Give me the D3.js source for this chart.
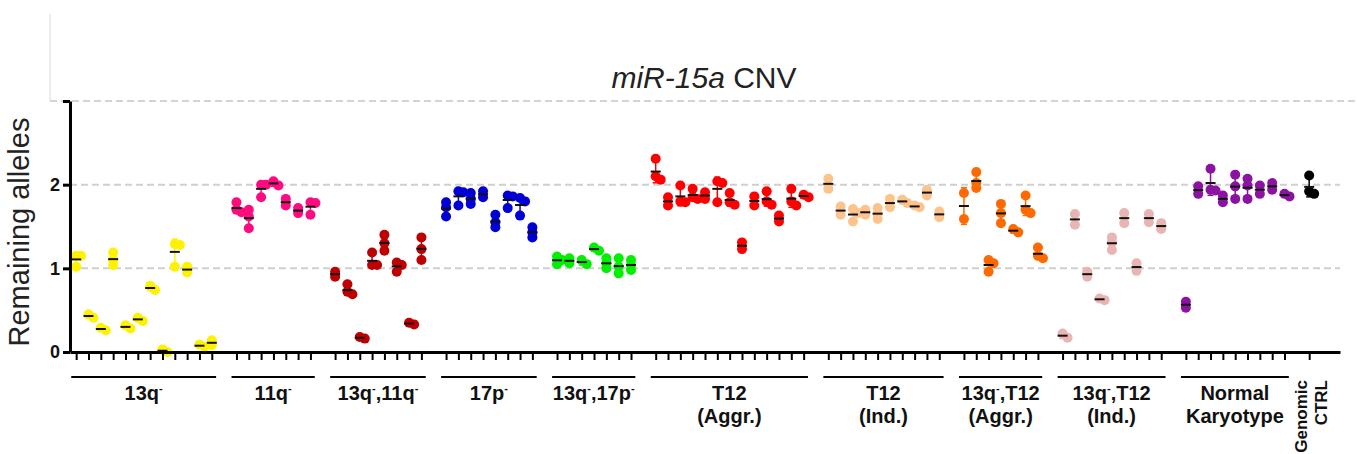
<!DOCTYPE html>
<html><head><meta charset="utf-8">
<script src="https://cdn.jsdelivr.net/npm/d3@7"></script>
<style>body{margin:0;background:#fff}svg{display:block}</style>
</head><body>
<script>
// ---------- data (replicate values per patient sample) ----------
const groupNames = ["13q^","11q^","13q^,11q^","17p^","13q^,17p^","T12|(Aggr.)","T12|(Ind.)","13q^,T12|(Aggr.)","13q^,T12|(Ind.)","Normal|Karyotype","Genomic|CTRL"];
const groupColors = ["#fff200","#ff0a7f","#be0000","#0000d6","#00f000","#ff0000","#fcc48c","#ff6a00","#e9b5b3","#8c12a2","#000000"];
const s13q = [[1.15,1.15,1.02],[0.45,0.41],[0.29,0.26],[1.19,1.04,1.10],[0.32,0.28],[0.41,0.37],[0.79,0.74],[0.03,0.00],[1.29,1.28,1.02],[1.02,0.95],[0.09,0.06],[0.14,0.08]];
const s11q = [[1.79,1.70,1.67],[1.70,1.62,1.48],[2.00,2.00,1.85],[2.04,1.99],[1.83,1.75],[1.72,1.66],[1.79,1.78,1.64]];
const s13q11q = [[0.96,0.90],[0.81,0.72,0.69],[0.18,0.16],[1.19,1.04,1.04],[1.40,1.30,1.21],[1.07,1.04,0.96],[0.35,0.33],[1.37,1.23,1.10]];
const s17p = [[1.79,1.73,1.62],[1.92,1.91,1.75],[1.90,1.83,1.77],[1.92,1.85],[1.64,1.55,1.49],[1.87,1.86,1.72],[1.84,1.80,1.63],[1.49,1.43,1.37]];
const s13q17p = [[1.14,1.05,1.10],[1.12,1.06],[1.10,1.05],[1.25,1.21],[1.12,1.00,1.06],[1.12,0.94,1.02],[1.10,0.98,1.04]];
const sT12A = [[2.31,2.10,2.06],[1.85,1.75],[1.99,1.80,1.79],[1.95,1.85,1.83],[1.91,1.83],[2.04,2.02,1.79],[1.90,1.79,1.76],[1.31,1.23],[1.86,1.75],[1.92,1.80,1.76],[1.63,1.56],[1.95,1.80,1.75],[1.88,1.85]];
const sT12I = [[2.07,1.95],[1.74,1.64],[1.71,1.66,1.56],[1.70,1.64],[1.72,1.65,1.59],[1.83,1.73],[1.82,1.78],[1.75,1.73],[1.94,1.87],[1.68,1.61]];
const s13qT12A = [[1.90,1.59],[2.15,2.02,1.96],[1.10,1.06,0.96],[1.77,1.66,1.54],[1.47,1.43],[1.87,1.70,1.66],[1.25,1.15,1.12]];
const s13qT12I = [[0.22,0.17],[1.65,1.52],[0.96,0.90],[0.64,0.62],[1.37,1.31,1.22],[1.66,1.54],[1.06,0.97],[1.65,1.55],[1.54,1.47]];
const sNormal = [[0.60,0.53],[1.98,1.89],[2.19,1.94,1.93],[1.87,1.79],[2.12,1.98,1.83],[2.07,1.99,1.83],[1.99,1.89],[2.02,1.94],[1.89,1.86]];
const sCtrl = [[2.11,1.92,1.89]];
const groupSamples = [s13q,s11q,s13q11q,s17p,s13q17p,sT12A,sT12I,s13qT12A,s13qT12I,sNormal,sCtrl];
const yTicks = [0,1,2,3];
const yTickLabels = ["0","1","2",""];

// ---------- layout ----------
const W = 1357, H = 454;
const FONT = "'Liberation Sans', Arial, sans-serif";
const NARROW = "'Liberation Sans Narrow', 'Arial Narrow', 'Liberation Sans', Arial, sans-serif";
const svg = d3.select("body").append("svg").attr("width",W).attr("height",H)
  .style("font-family",FONT);

// slot index for each sample, one empty slot between groups
let slot = 0;
const groups = groupSamples.map((samples,gi)=>{
  const slots = samples.map(()=>slot++);
  slot++;
  return {name:groupNames[gi], color:groupColors[gi], samples, slots};
});
const nSlots = slot - 1;

const x = d3.scaleLinear().domain([-0.5, nSlots + 1.5]).range([70, 1340]);
const y = d3.scaleLinear().domain([0,3]).range([352,101]);

// frame / grid
svg.append("line").attr("x1",50).attr("x2",50).attr("y1",14).attr("y2",y(3))
  .attr("stroke","#e6e6e6").attr("stroke-width",1.5);
svg.append("line").attr("x1",50).attr("x2",W).attr("y1",y(3)).attr("y2",y(3))
  .attr("stroke","#d4d4d4").attr("stroke-width",2).attr("stroke-dasharray","7,4");
[1,2].forEach(v=>{
  svg.append("line").attr("x1",x.range()[0]).attr("x2",x.range()[1]).attr("y1",y(v)).attr("y2",y(v))
    .attr("stroke","#cfcfcf").attr("stroke-width",2).attr("stroke-dasharray","7,4");
});

// title
const title = svg.append("text").attr("x",704).attr("y",88).attr("text-anchor","middle")
  .attr("font-size",30).attr("fill","#222");
title.append("tspan").attr("font-style","italic").text("miR-15a");
title.append("tspan").text(" CNV");

// y axis label
svg.append("text").attr("transform","translate(29,232) rotate(-90)").attr("text-anchor","middle")
  .attr("font-size",29).attr("fill","#222").text("Remaining alleles");

// points
const r = 5;
groups.forEach(g=>{
  g.samples.forEach((vals,si)=>{
    const cx = x(g.slots[si]);
    const m = d3.mean(vals), sd = d3.deviation(vals);
    const placed = [];
    const sorted = vals.slice().sort((a,b)=>b-a);
    sorted.forEach(v=>{
      const py = y(v);
      const cands = [0, 5, -5, 10, -10];
      let off = 0;
      for (const c of cands){
        if (placed.every(p=> Math.hypot(p.x-(cx+c), p.y-py) >= 4.2)) { off = c; break; }
      }
      placed.push({x:cx+off, y:py});
    });
    const gg = svg.append("g");
    if (sd) {
      gg.append("line").attr("x1",cx).attr("x2",cx).attr("y1",y(m-sd)).attr("y2",y(m+sd))
        .attr("stroke",g.color).attr("stroke-width",1.5);
      [m-sd,m+sd].forEach(v=> gg.append("line").attr("x1",cx-3).attr("x2",cx+3).attr("y1",y(v)).attr("y2",y(v))
        .attr("stroke",g.color).attr("stroke-width",1.5));
    }
    gg.selectAll("circle").data(placed).join("circle")
      .attr("cx",d=>d.x).attr("cy",d=>d.y).attr("r",r).attr("fill",g.color);
    gg.append("line").attr("x1",cx-5).attr("x2",cx+5).attr("y1",y(m)).attr("y2",y(m))
      .attr("stroke","#111").attr("stroke-width",2);
  });
});

// y axis
const yAxis = svg.append("g").attr("transform",`translate(${x.range()[0]},0)`)
  .call(d3.axisLeft(y).tickValues(yTicks).tickFormat((d,i)=>yTickLabels[i]).tickSize(7).tickSizeOuter(0));
yAxis.select(".domain").attr("stroke","#000").attr("stroke-width",3);
yAxis.selectAll(".tick line").attr("stroke","#000").attr("stroke-width",3);
yAxis.selectAll(".tick text").attr("font-size",18).attr("font-weight","bold").attr("fill","#111")
  .attr("font-family",FONT).attr("x",-10);

// x axis with ticks at sample slots only
const allSlots = groups.flatMap(g=>g.slots);
const xAxis = svg.append("g").attr("transform",`translate(0,${y(0)})`)
  .call(d3.axisBottom(x).tickValues(allSlots).tickFormat("").tickSize(8).tickSizeOuter(0));
xAxis.select(".domain").attr("stroke","#000").attr("stroke-width",3);
xAxis.selectAll(".tick line").attr("stroke","#000").attr("stroke-width",2);

// group brackets and labels
function addLabel(sel, str){
  let pendingDy = 0;
  str.split("^").forEach((part,i,arr)=>{
    if (part) { sel.append("tspan").attr("dy",pendingDy).text(part); pendingDy = 0; }
    if (i < arr.length-1) { sel.append("tspan").attr("font-size",11).attr("dy",-8).text("-"); pendingDy = 8; }
  });
}
groups.forEach(g=>{
  const first = g.slots[0], last = g.slots[g.slots.length-1];
  const lines = g.name.split("|");
  if (g.name.startsWith("Genomic")) {
    lines.forEach((ln,i)=>{
      svg.append("text").attr("transform",`translate(${x(first)-2+i*20},380) rotate(-90)`)
        .attr("text-anchor","end").attr("font-size",17).attr("font-family",NARROW)
        .attr("font-weight","bold").attr("fill","#111").text(ln);
    });
    return;
  }
  svg.append("line").attr("x1",x(first-0.4)).attr("x2",x(last+0.35)).attr("y1",377).attr("y2",377)
    .attr("stroke","#000").attr("stroke-width",2);
  const cx = (x(first-0.4)+x(last+0.35))/2;
  lines.forEach((ln,i)=>{
    const t = svg.append("text").attr("x",cx).attr("y",400+i*23).attr("text-anchor","middle")
      .attr("font-size",20).attr("font-family",NARROW).attr("font-weight","bold").attr("fill","#111");
    addLabel(t, ln);
  });
});
</script>
</body></html>
